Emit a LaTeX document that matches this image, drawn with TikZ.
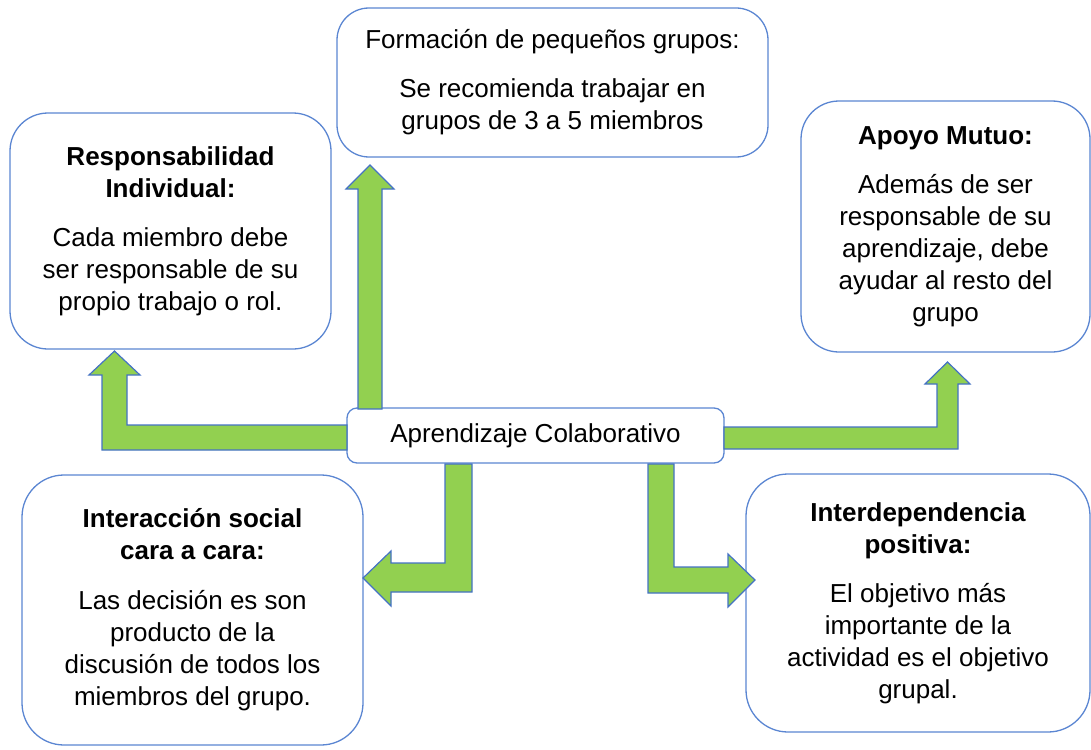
\documentclass[tikz,border=0pt]{standalone}
\usepackage{fontspec}
\setmainfont{Liberation Sans}
\usepackage{tikz}
\usetikzlibrary{positioning}
\definecolor{verde}{RGB}{146,208,80}
\definecolor{azul}{RGB}{68,114,196}
\definecolor{borde}{RGB}{91,134,210}

\begin{document}
\begin{tikzpicture}[x=1pt, y=-1pt,
			caja/.style={draw=borde, line width=1.3pt, fill=white, rounded corners=32pt, align=center, inner sep=0pt, font=\fontsize{26}{32}\selectfont},
			flecha/.style={draw=azul, fill=verde, line width=1.2pt, line join=miter}
			]
			\useasboundingbox (0,0) rectangle (1091,749);

			% Los cuadros
			\node[caja, minimum width=377pt, minimum height=55pt, rounded corners=10pt] (centro) at (535.5,435.5) {Aprendizaje Colaborativo};
			\node[caja, minimum width=431pt, minimum height=149pt] (formacion) at (552.5,82.5) {Formación de pequeños grupos:\\[17pt] Se recomienda trabajar en\\ grupos de 3 a 5 miembros};
			\node[caja, minimum width=321pt, minimum height=236pt, rounded corners=38pt] (responsabilidad) at (170.5,231) {\textbf{Responsabilidad}\\ \textbf{Individual:}\\[17pt] Cada miembro debe\\ ser responsable de su\\ propio trabajo o rol.};
			\node[caja, minimum width=289pt, minimum height=251pt, rounded corners=38pt] (apoyo) at (945.5,226.5) {\textbf{Apoyo Mutuo:}\\[17pt] Además de ser\\ responsable de su\\ aprendizaje, debe\\ ayudar al resto del\\ grupo};
			\node[caja, minimum width=341pt, minimum height=270pt, rounded corners=42pt] (interaccion) at (192.5,610) {\textbf{Interacción social}\\ \textbf{cara a cara:}\\[18pt] Las decisión es son\\ producto de la\\ discusión de todos los\\ miembros del grupo.};
			\node[caja, minimum width=344pt, minimum height=258pt, rounded corners=42pt] (interdependencia) at (918,603) {\textbf{Interdependencia}\\ \textbf{positiva:}\\[17pt] El objetivo más\\ importante de la\\ actividad es el objetivo\\ grupal.};

			% Las flechas
			\draw[flecha] (347,425) -- (127,425) -- (127,375) -- (140,375) -- (114.5,351) -- (89,375) -- (102,375) -- (102,450) -- (347,450) -- cycle;
			\draw[flecha] (358,409) -- (358,189) -- (346,189) -- (370,165) -- (394,189) -- (382,189) -- (382,409) -- cycle;
			\draw[flecha] (724,427) -- (937,427) -- (937,384) -- (925,384) -- (947.5,362) -- (970,384) -- (958,384) -- (958,449) -- (724,449) -- cycle;
			\draw[flecha] (445,464) -- (472,464) -- (472,592) -- (391,592) -- (391,606) -- (363,578) -- (391,551) -- (391,563) -- (445,563) -- cycle;
			\draw[flecha] (648,464) -- (674,464) -- (674,567) -- (728,567) -- (728,554) -- (755,580) -- (728,607) -- (728,593) -- (648,593) -- cycle;
		\end{tikzpicture}
\end{document}
